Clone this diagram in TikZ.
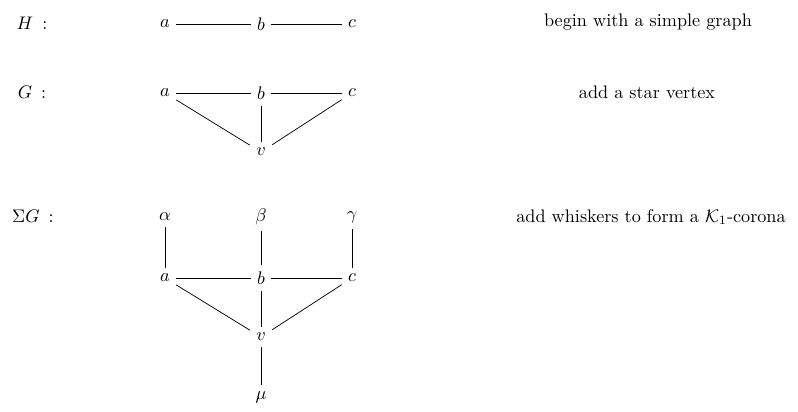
\documentclass[tikz,border=0pt]{standalone}
\usepackage{tikz}
\usetikzlibrary{positioning}

\begin{document}
\begin{tikzpicture}[
  x=0.55pt, y=-0.55pt,
  vtx/.style={inner sep=3.3pt},
  lbl/.style={anchor=center},
  note/.style={},
  edge/.style={-},
]
\useasboundingbox (0,0) rectangle (798,411);

%% ---- H : simple graph ----
\node[lbl] (hName) at (32,23) {$H\hspace{5pt}{:}$};
\node[vtx] (hA) at (165,24) {$a$};
\node[vtx] (hB) at (261,24) {$b$};
\node[vtx] (hC) at (352,24) {$c$};
\draw[edge] (hA) -- (hB);
\draw[edge] (hB) -- (hC);
\node[note] (hNote) at (648,22) {begin with a simple graph};

%% ---- G : add star vertex ----
\node[lbl] (gName) at (32,92) {$G\hspace{5pt}{:}$};
\node[vtx] (gA) at (165,93) {$a$};
\node[vtx] (gB) at (261,93) {$b$};
\node[vtx] (gC) at (352,93) {$c$};
\node[vtx] (gV) at (261,152) {$v$};
\draw[edge] (gA) -- (gB);
\draw[edge] (gB) -- (gC);
\draw[edge] (gA) -- (gV);
\draw[edge] (gB) -- (gV);
\draw[edge] (gC) -- (gV);
\node[note] (gNote) at (647,92) {add a star vertex};

%% ---- Sigma G : whiskers ----
\node[lbl] (sName) at (33,216) {$\Sigma G\hspace{5pt}{:}$};
\node[vtx] (sAlpha) at (165,217) {$\alpha$};
\node[vtx] (sBeta)  at (261,217) {$\beta$};
\node[vtx] (sGamma) at (352,217) {$\gamma$};
\node[vtx] (sA) at (165,278) {$a$};
\node[vtx] (sB) at (261,278) {$b$};
\node[vtx] (sC) at (352,278) {$c$};
\node[vtx] (sV) at (261,337) {$v$};
\node[vtx] (sMu) at (261,397) {$\mu$};
\draw[edge] (sAlpha) -- (sA);
\draw[edge] (sBeta) -- (sB);
\draw[edge] (sGamma) -- (sC);
\draw[edge] (sA) -- (sB);
\draw[edge] (sB) -- (sC);
\draw[edge] (sA) -- (sV);
\draw[edge] (sB) -- (sV);
\draw[edge] (sC) -- (sV);
\draw[edge] (sV) -- (sMu);
\node[note] (sNote) at (651,217) {add whiskers to form a $\mathcal{K}_1$-corona};

\end{tikzpicture}
\end{document}
